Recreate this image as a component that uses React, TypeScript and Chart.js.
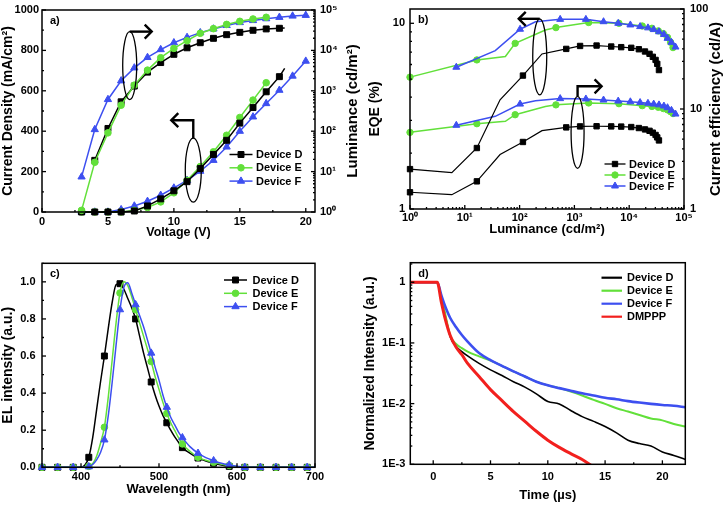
import React, { useEffect, useRef } from 'react';
import { Chart, registerables } from 'chart.js';

Chart.register(...registerables);

const FONT = "'Liberation Sans', Arial, Helvetica, sans-serif";
Chart.defaults.font.family = FONT;
Chart.defaults.color = '#000';

const C_D = '#000000';
const C_E = '#62e03a';
const C_F = '#3d4ff0';
const C_R = '#f2201e';

// ---------- a) current density / luminance vs voltage ----------
const aVoltD = [3, 4, 5, 6, 7, 8, 9, 10, 11, 12, 13, 14, 15, 16, 17, 18, 18.4];
const aCurD = [0, 0, 0, 0, 5, 30, 65, 105, 150, 215, 285, 355, 440, 517, 595, 670, 711];
const aLumVoltD = [4, 5, 6, 7, 8, 9, 10, 11, 12, 13, 14, 15, 16, 17, 18, 18.4];
const aLumD = [19, 117, 535, 1310, 2900, 5000, 8000, 11600, 15500, 19900, 24500, 28000, 31500, 34000, 35300, 36000];
const aVoltE = [3, 4, 5, 6, 7, 8, 9, 10, 11, 12, 13, 14, 15, 16, 17];
const aCurE = [0, 0, 0, 0, 8, 22, 50, 95, 157, 225, 298, 380, 468, 554, 640];
const aLumE = [1.1, 17, 91, 440, 1380, 3250, 6600, 11200, 17400, 26500, 34500, 44000, 52500, 60000, 66000];
const aVoltF = [3, 4, 5, 6, 7, 8, 9, 10, 11, 12, 13, 14, 15, 16, 17, 18, 19, 20];
const aCurF = [0, 0, 0, 12, 30, 53, 83, 119, 157, 202, 256, 322, 400, 471, 537, 603, 673, 747];
const aLumF = [7.4, 110, 610, 1770, 3700, 6700, 10500, 15500, 21000, 27500, 34000, 41500, 49000, 55000, 61000, 66000, 71000, 74000];
const aXTicks = [0, 5, 10, 15, 20];
const aYTicks = [0, 200, 400, 600, 800, 1000];
const aY1Ticks = [1, 10, 100, 1000, 10000, 100000];

// ---------- b) EQE / current efficiency vs luminance ----------
const bLumD = [1, 5.8, 16.6, 44, 115, 256, 710, 1270, 2540, 4700, 7150, 10900, 15000, 19400, 23500, 27000, 30300, 32500, 34900];
const bEqeD = [1.64, 1.57, 2.13, 3.87, 5.23, 6.84, 7.28, 7.55, 7.59, 7.5, 7.44, 7.38, 7.25, 7.05, 6.85, 6.6, 6.35, 6.05, 5.6];
const bCeD = [1.47, 1.39, 1.89, 3.5, 4.68, 6.07, 6.55, 6.7, 6.72, 6.7, 6.67, 6.6, 6.45, 6.25, 6.05, 5.8, 5.5, 5.2, 4.85];
const bBareD = [1, 3, 5];
const bLumE = [1, 16.6, 55, 83, 295, 460, 1820, 6500, 17300, 26000, 34000, 42000, 50000, 57000, 63000];
const bEqeE = [5.13, 6.35, 6.62, 7.8, 9.2, 9.48, 10.1, 10.0, 9.67, 9.4, 9.1, 8.8, 8.4, 7.9, 7.4];
const bCeE = [5.84, 7.13, 7.53, 8.77, 10.6, 11.0, 11.5, 11.3, 10.8, 10.6, 10.4, 10.1, 9.8, 9.4, 9.0];
const bBareE = [2, 4];
const bLumF = [7, 36, 102, 195, 550, 1620, 3400, 6300, 10500, 15800, 22000, 28000, 35000, 43000, 50000, 59000, 70000];
const bEqeF = [5.8, 7.13, 9.29, 10.2, 10.5, 10.5, 10.2, 10.0, 9.8, 9.6, 9.45, 9.25, 9.0, 8.7, 8.3, 7.9, 7.45];
const bCeF = [6.87, 8.45, 11.2, 12.1, 12.7, 12.6, 12.3, 12.0, 11.8, 11.6, 11.4, 11.2, 11.0, 10.7, 10.3, 9.7, 8.9];
const bBareF = [1, 3];
const bXTicks = [1, 10, 100, 1000, 10000, 100000];
const bYTicks = [1, 10];
const bY1Ticks = [1, 10, 100];

// ---------- c) EL spectra ----------
const cWave = [350, 370, 390, 400, 405, 410, 415, 420, 425, 430, 435, 440, 445, 450, 455, 460, 465, 470, 475, 480, 485, 490, 495, 500, 505, 510, 515, 520, 525, 530, 540, 550, 560, 570, 580, 590, 600, 610, 630, 650, 670, 690, 700];
const cD = [0, 0, 0, 0, 0.012, 0.054, 0.16, 0.31, 0.46, 0.6, 0.75, 0.89, 0.985, 0.99, 0.96, 0.91, 0.86, 0.8, 0.71, 0.62, 0.54, 0.46, 0.39, 0.33, 0.28, 0.24, 0.2, 0.165, 0.135, 0.106, 0.075, 0.05, 0.034, 0.022, 0.012, 0.005, 0, 0, 0, 0, 0, 0, 0];
const cE = [0, 0, 0, 0, 0, 0.005, 0.02, 0.06, 0.13, 0.216, 0.38, 0.58, 0.78, 0.94, 1.0, 0.98, 0.92, 0.85, 0.78, 0.71, 0.64, 0.57, 0.49, 0.42, 0.35, 0.29, 0.24, 0.2, 0.16, 0.126, 0.085, 0.054, 0.038, 0.027, 0.017, 0.01, 0.004, 0, 0, 0, 0, 0, 0];
const cF = [0, 0, 0, 0, 0, 0.003, 0.015, 0.04, 0.08, 0.148, 0.28, 0.46, 0.66, 0.85, 0.97, 0.995, 0.94, 0.877, 0.82, 0.76, 0.69, 0.616, 0.54, 0.47, 0.39, 0.324, 0.27, 0.23, 0.19, 0.16, 0.11, 0.076, 0.052, 0.036, 0.022, 0.013, 0.006, 0, 0, 0, 0, 0, 0];
const cXTicks = [400, 500, 600, 700];
const cYTicks = [0, 0.2, 0.4, 0.6, 0.8, 1.0];

// ---------- d) transient decay ----------
const dTime = [-2, 0.35, 0.7, 1, 1.5, 2, 2.5, 3, 4, 5, 6, 7, 8, 9, 10, 11, 12, 13, 14, 15, 16, 17, 18, 19, 20, 21, 22];
const dD = [1, 1, 0.58, 0.31, 0.124, 0.087, 0.072, 0.061, 0.046, 0.036, 0.029, 0.023, 0.0187, 0.0145, 0.0108, 0.0099, 0.0077, 0.0061, 0.0051, 0.0042, 0.0033, 0.0025, 0.0022, 0.002, 0.0016, 0.0014, 0.0012];
const dE = [1, 1, 0.58, 0.33, 0.13, 0.096, 0.082, 0.072, 0.06, 0.051, 0.042, 0.034, 0.028, 0.023, 0.02, 0.018, 0.0158, 0.0136, 0.0115, 0.0099, 0.0084, 0.0074, 0.0065, 0.0057, 0.0053, 0.0046, 0.0042];
const dF = [1, 1, 0.618, 0.423, 0.255, 0.181, 0.135, 0.105, 0.068, 0.052, 0.042, 0.034, 0.028, 0.023, 0.02, 0.018, 0.0163, 0.0148, 0.0136, 0.0125, 0.0118, 0.011, 0.0104, 0.0099, 0.0095, 0.0092, 0.0087];
const dR = [1, 1, 0.48, 0.27, 0.13, 0.085, 0.064, 0.046, 0.028, 0.017, 0.0112, 0.0074, 0.0051, 0.0035, 0.0025, 0.0019, 0.0015, 0.0012, 0.0009];
const dXTicks = [0, 5, 10, 15, 20];
const dYTicks = [0.001, 0.01, 0.1, 1];
const dYLabels = ['1E-3', '1E-2', '1E-1', '1'];

const SUP: Record<string, string> = { '0': '\u2070', '1': '\u00b9', '2': '\u00b2', '3': '\u00b3', '4': '\u2074', '5': '\u2075' };
const pow10 = (v: number) => '10' + SUP[String(Math.round(Math.log10(v)))];

// ---------- helpers ----------
function axis(o: any) {
  const horiz = o.position === 'bottom';
  return {
    type: o.type,
    position: o.position,
    min: o.min,
    max: o.max,
    grid: { display: false, drawTicks: false },
    border: { display: false },
    afterBuildTicks: (s: any) => {
      s.ticks = o.ticks.map((v: number) => ({ value: v }));
    },
    afterFit: (s: any) => {
      if (horiz) s.height = o.size;
      else s.width = o.size;
      s.paddingTop = 0;
      s.paddingBottom = 0;
      s.paddingLeft = 0;
      s.paddingRight = 0;
    },
    ticks: {
      autoSkip: false,
      maxRotation: 0,
      minRotation: 0,
      padding: o.pad,
      color: '#000',
      font: { family: FONT, size: 11, weight: 'bold' },
      callback: (v: any, i: number) => o.labels(Number(v), i),
    },
    title: o.title
      ? {
          display: true,
          text: o.title,
          color: '#000',
          font: { family: FONT, size: o.titleSize || 12.5, weight: 'bold', lineHeight: 1.2 },
          padding: { top: o.titlePad, bottom: o.titlePad },
        }
      : { display: false },
  };
}

function series(label: string, xs: number[], ys: number[], color: string, style: any, r: number, yAxis: string, bare: number[] = [], extra: any = {}) {
  return {
    label,
    data: ys.map((y, i) => ({ x: xs[i], y })),
    borderColor: color,
    backgroundColor: color,
    pointBackgroundColor: color,
    pointBorderColor: color,
    pointStyle: style,
    pointRadius: ys.map((_, i) => (bare.includes(i) ? 0 : r)),
    pointHoverRadius: 0,
    pointBorderWidth: 1,
    borderWidth: 1.5,
    xAxisID: 'x',
    yAxisID: yAxis,
    clip: 8,
    tension: 0,
    ...extra,
  };
}

function minorValues(s: any, majors: number[]) {
  const out: number[] = [];
  if (s.type === 'logarithmic') {
    const lo = Math.floor(Math.log10(s.min));
    const hi = Math.ceil(Math.log10(s.max));
    for (let d = lo; d < hi; d++) {
      for (let m = 2; m <= 9; m++) {
        const v = m * Math.pow(10, d);
        if (v > s.min && v < s.max) out.push(v);
      }
    }
  } else if (majors.length > 1) {
    const step = majors[1] - majors[0];
    for (let v = majors[0] - step / 2; v < s.max; v += step) if (v > s.min) out.push(v);
  }
  return out;
}

function drawMarker(ctx: CanvasRenderingContext2D, style: string, x: number, y: number, r: number, color: string) {
  ctx.save();
  ctx.fillStyle = color;
  ctx.strokeStyle = color;
  ctx.lineWidth = 1;
  ctx.beginPath();
  if (style === 'rect') {
    const h = r * Math.SQRT1_2;
    ctx.rect(x - h, y - h, 2 * h, 2 * h);
  } else if (style === 'circle') {
    ctx.arc(x, y, r, 0, Math.PI * 2);
  } else if (style === 'triangle') {
    for (let k = 0; k < 3; k++) {
      const ang = (k * 2 * Math.PI) / 3;
      const px = x + Math.sin(ang) * r;
      const py = y - Math.cos(ang) * r;
      if (k === 0) ctx.moveTo(px, py);
      else ctx.lineTo(px, py);
    }
    ctx.closePath();
  }
  ctx.fill();
  ctx.stroke();
  ctx.restore();
}

const decorPlugin = {
  id: 'decor',
  afterDatasetsDraw(chart: any, _args: any, opts: any) {
    const ctx: CanvasRenderingContext2D = chart.ctx;
    const a = chart.chartArea;
    ctx.save();
    ctx.strokeStyle = '#000';
    ctx.lineWidth = 1.3;
    for (const id of Object.keys(chart.scales)) {
      const s = chart.scales[id];
      const majors = s.ticks.map((t: any) => t.value);
      const minors = minorValues(s, majors);
      const draw = (vals: number[], len: number) => {
        for (const v of vals) {
          const p = s.getPixelForValue(v);
          ctx.beginPath();
          if (s.position === 'bottom') {
            ctx.moveTo(p, a.bottom);
            ctx.lineTo(p, a.bottom - len);
          } else if (s.position === 'left') {
            ctx.moveTo(a.left, p);
            ctx.lineTo(a.left + len, p);
          } else {
            ctx.moveTo(a.right, p);
            ctx.lineTo(a.right - len, p);
          }
          ctx.stroke();
        }
      };
      draw(majors, 4);
      draw(minors, 2);
    }
    ctx.lineWidth = 1.5;
    ctx.strokeRect(a.left, a.top, a.right - a.left, a.bottom - a.top);

    // annotations: ellipse + bent arrow
    for (const e of opts.ellipses || []) {
      const cx = chart.scales[e.xAxis].getPixelForValue(e.x);
      const cy = chart.scales[e.yAxis].getPixelForValue(e.y);
      ctx.lineWidth = 1.3;
      ctx.beginPath();
      ctx.ellipse(cx, cy, e.rx, e.ry, 0, 0, Math.PI * 2);
      ctx.stroke();
      const topY = cy - e.ry;
      const ay = topY - e.rise;
      const tipX = cx + e.reach;
      const dir = Math.sign(e.reach);
      ctx.lineWidth = 2.4;
      ctx.beginPath();
      ctx.moveTo(cx, topY);
      ctx.lineTo(cx, ay);
      ctx.lineTo(tipX, ay);
      ctx.stroke();
      ctx.beginPath();
      ctx.moveTo(tipX - dir * 7, ay - 7);
      ctx.lineTo(tipX, ay);
      ctx.lineTo(tipX - dir * 7, ay + 7);
      ctx.stroke();
    }

    // right-hand title (reads bottom to top)
    if (opts.rightTitle) {
      ctx.save();
      ctx.translate(opts.rightTitle.x, (a.top + a.bottom) / 2);
      ctx.rotate(-Math.PI / 2);
      ctx.font = `bold ${opts.rightTitle.size}px ${FONT}`;
      ctx.fillStyle = '#000';
      ctx.textAlign = 'center';
      ctx.textBaseline = 'middle';
      ctx.fillText(opts.rightTitle.text, 0, 0);
      ctx.restore();
    }

    // legend
    if (opts.legend) {
      const L = opts.legend;
      ctx.font = `bold 11px ${FONT}`;
      ctx.textAlign = 'left';
      ctx.textBaseline = 'middle';
      L.items.forEach((it: any, i: number) => {
        const y = L.y0 + i * L.dy;
        ctx.strokeStyle = it.color;
        ctx.lineWidth = it.lw;
        ctx.beginPath();
        ctx.moveTo(L.x0, y);
        ctx.lineTo(L.x1, y);
        ctx.stroke();
        if (it.style) drawMarker(ctx, it.style, (L.x0 + L.x1) / 2, y, it.r, it.color);
        ctx.fillStyle = '#000';
        ctx.fillText(it.label, L.tx, y + 0.5);
      });
    }

    // panel tag
    if (opts.tag) {
      ctx.font = `bold 11px ${FONT}`;
      ctx.fillStyle = '#000';
      ctx.textAlign = 'left';
      ctx.textBaseline = 'middle';
      ctx.fillText(opts.tag, a.left + 8, a.top + 11);
    }
    ctx.restore();
  },
};

function baseOptions(padding: any, decor: any, scales: any) {
  return {
    responsive: false,
    animation: false,
    devicePixelRatio: 1,
    layout: { padding },
    plugins: { legend: { display: false }, tooltip: { enabled: false }, decor },
    scales,
    events: [],
  };
}

// ---------- panel configs ----------
function configA() {
  return {
    type: 'line',
    data: {
      datasets: [
        series('Device E', aVoltE, aLumE, C_E, 'circle', 3.3, 'y1', [], { order: 0 }),
        series('Device F', aVoltF, aLumF, C_F, 'triangle', 4.2, 'y1', [], { order: 1 }),
        series('Device D', aLumVoltD, aLumD, C_D, 'rect', 4.2, 'y1', [15], { order: 2 }),
        series('Device D', aVoltD, aCurD, C_D, 'rect', 4.2, 'y', [16], { order: 3 }),
        series('Device E', aVoltE, aCurE, C_E, 'circle', 3.3, 'y', [], { order: 4 }),
        series('Device F', aVoltF, aCurF, C_F, 'triangle', 4.2, 'y', [], { order: 5 }),
      ],
    },
    options: baseOptions(
      { top: 10, left: 0, right: 0, bottom: 0 },
      {
        tag: 'a)',
        rightTitle: { text: 'Luminance (cd/m\u00b2)', x: 353, size: 15 },
        legend: {
          x0: 229.5, x1: 252.5, tx: 256, y0: 154.5, dy: 13.3,
          items: [
            { label: 'Device D', color: C_D, style: 'rect', r: 4.2, lw: 1.5 },
            { label: 'Device E', color: C_E, style: 'circle', r: 3.3, lw: 1.5 },
            { label: 'Device F', color: C_F, style: 'triangle', r: 4.2, lw: 1.5 },
          ],
        },
        ellipses: [
          { xAxis: 'x', yAxis: 'y1', x: 6.65, y: 4200, rx: 7, ry: 34, rise: 0, reach: 22 },
          { xAxis: 'x', yAxis: 'y', x: 11.47, y: 207, rx: 8, ry: 32, rise: 18, reach: -22 },
        ],
      },
      {
        x: axis({ type: 'linear', position: 'bottom', min: 0, max: 20.7, ticks: aXTicks, labels: (v: number) => String(v), size: 38, pad: 3.4, title: 'Voltage (V)', titlePad: 9.5 }),
        y: axis({ type: 'linear', position: 'left', min: 0, max: 1000, ticks: aYTicks, labels: (v: number) => String(v), size: 42, pad: 3, title: 'Current Density (mA/cm\u00b2)', titlePad: 0, titleSize: 14 }),
        y1: axis({ type: 'logarithmic', position: 'right', min: 1, max: 100000, ticks: aY1Ticks, labels: pow10, size: 47, pad: 5 }),
      }
    ),
    plugins: [decorPlugin],
  };
}

function configB() {
  return {
    type: 'line',
    data: {
      datasets: [
        series('Device F', bLumF, bEqeF, C_F, 'triangle', 4, 'y', bBareF, { order: 0 }),
        series('Device E', bLumE, bEqeE, C_E, 'circle', 3.2, 'y', bBareE, { order: 1 }),
        series('Device D', bLumD, bEqeD, C_D, 'rect', 3.8, 'y', bBareD, { order: 2, borderWidth: 1.2 }),
        series('Device F', bLumF, bCeF, C_F, 'triangle', 4, 'y1', bBareF, { order: 3 }),
        series('Device E', bLumE, bCeE, C_E, 'circle', 3.2, 'y1', bBareE, { order: 4 }),
        series('Device D', bLumD, bCeD, C_D, 'rect', 3.8, 'y1', bBareD, { order: 5, borderWidth: 1.2 }),
      ],
    },
    options: baseOptions(
      { top: 9, left: 0, right: 0, bottom: 0 },
      {
        tag: 'b)',
        rightTitle: { text: 'Current efficiency (cd/A)', x: 354, size: 15 },
        legend: {
          x0: 242.5, x1: 263.5, tx: 267, y0: 164, dy: 11,
          items: [
            { label: 'Device D', color: C_D, style: 'rect', r: 3.8, lw: 1.3 },
            { label: 'Device E', color: C_E, style: 'circle', r: 3.2, lw: 1.5 },
            { label: 'Device F', color: C_F, style: 'triangle', r: 4, lw: 1.5 },
          ],
        },
        ellipses: [
          { xAxis: 'x', yAxis: 'y', x: 233, y: 6.6, rx: 7, ry: 38, rise: 0, reach: -21 },
          { xAxis: 'x', yAxis: 'y1', x: 1143, y: 5.85, rx: 6.5, ry: 36, rise: 10, reach: 24 },
        ],
      },
      {
        x: axis({ type: 'logarithmic', position: 'bottom', min: 1, max: 100000, ticks: bXTicks, labels: pow10, size: 41, pad: 2.5, title: 'Luminance (cd/m\u00b2)', titlePad: 12.5, titleSize: 13 }),
        y: axis({ type: 'logarithmic', position: 'left', min: 1, max: 11.94, ticks: bYTicks, labels: (v: number) => String(v), size: 48, pad: 5, title: 'EQE (%)', titlePad: 5, titleSize: 14 }),
        y1: axis({ type: 'logarithmic', position: 'right', min: 1, max: 100, ticks: bY1Ticks, labels: (v: number) => String(v), size: 40, pad: 6 }),
      }
    ),
    plugins: [decorPlugin],
  };
}

function configC() {
  const r = (rad: number) => (c: any) => {
    const x = c.raw ? c.raw.x : 0;
    return (x - 350) % 20 === 0 && x <= 690 ? rad : 0;
  };
  const mk = (label: string, ys: number[], color: string, style: string, rad: number, order: number) => ({
    ...series(label, cWave, ys, color, style, rad, 'y', [], { order }),
    pointRadius: r(rad),
    cubicInterpolationMode: 'monotone',
  });
  return {
    type: 'line',
    data: {
      datasets: [
        mk('Device F', cF, C_F, 'triangle', 4.2, 0),
        mk('Device E', cE, C_E, 'circle', 3.3, 1),
        mk('Device D', cD, C_D, 'rect', 4.2, 2),
      ],
    },
    options: baseOptions(
      { top: 13.3, left: 0, right: 47, bottom: 0 },
      {
        tag: 'c)',
        legend: {
          x0: 224, x1: 247, tx: 252.5, y0: 30, dy: 13.3,
          items: [
            { label: 'Device D', color: C_D, style: 'rect', r: 4.2, lw: 1.5 },
            { label: 'Device E', color: C_E, style: 'circle', r: 3.3, lw: 1.5 },
            { label: 'Device F', color: C_F, style: 'triangle', r: 4.2, lw: 1.5 },
          ],
        },
      },
      {
        x: axis({ type: 'linear', position: 'bottom', min: 350, max: 700, ticks: cXTicks, labels: (v: number) => String(v), size: 37.7, pad: 3, title: 'Wavelength (nm)', titlePad: 7.5, titleSize: 13 }),
        y: axis({ type: 'linear', position: 'left', min: 0, max: 1.1, ticks: cYTicks, labels: (v: number) => v.toFixed(1), size: 42, pad: 6.5, title: 'EL intensity (a.u.)', titlePad: 0, titleSize: 14 }),
      }
    ),
    plugins: [decorPlugin],
  };
}

function configD() {
  const mk = (label: string, ys: number[], color: string, lw: number, order: number) => ({
    ...series(label, dTime, ys, color, false, 0, 'y', [], { order, borderWidth: lw, clip: 0 }),
    cubicInterpolationMode: 'monotone',
  });
  return {
    type: 'line',
    data: {
      datasets: [
        mk('DMPPP', dR, C_R, 3, 0),
        mk('Device F', dF, C_F, 2.6, 1),
        mk('Device E', dE, C_E, 2, 2),
        mk('Device D', dD, C_D, 1.6, 3),
      ],
    },
    options: baseOptions(
      { top: 12.7, left: 0, right: 38.7, bottom: 0 },
      {
        tag: 'd)',
        legend: {
          x0: 239.5, x1: 260, tx: 265, y0: 27.7, dy: 13,
          items: [
            { label: 'Device D', color: C_D, style: false, r: 0, lw: 2.2 },
            { label: 'Device E', color: C_E, style: false, r: 0, lw: 2.2 },
            { label: 'Device F', color: C_F, style: false, r: 0, lw: 2.2 },
            { label: 'DMPPP', color: C_R, style: false, r: 0, lw: 2.2 },
          ],
        },
      },
      {
        x: axis({ type: 'linear', position: 'bottom', min: -2, max: 22, ticks: dXTicks, labels: (v: number) => String(v), size: 40.7, pad: 6.4, title: 'Time (\u00b5s)', titlePad: 1.5, titleSize: 13 }),
        y: axis({ type: 'logarithmic', position: 'left', min: 0.001, max: 2.1, ticks: dYTicks, labels: (_v: number, i: number) => dYLabels[i], size: 48.3, pad: 5, title: 'Normalized Intensity (a.u.)', titlePad: 0, titleSize: 14 }),
      }
    ),
    plugins: [decorPlugin],
  };
}

function Panel({ make, left, top, width, height }: { make: () => any; left: number; top: number; width: number; height: number }) {
  const ref = useRef<HTMLCanvasElement>(null);
  useEffect(() => {
    const chart = new Chart(ref.current as HTMLCanvasElement, make());
    return () => chart.destroy();
  }, [make]);
  return (
    <div style={{ position: 'absolute', left, top, width, height }}>
      <canvas ref={ref} width={width} height={height} style={{ width, height, display: 'block' }} />
    </div>
  );
}

export default function App() {
  return (
    <div style={{ position: 'absolute', left: 0, top: 0, width: 724, height: 505, background: '#fff', overflow: 'hidden' }}>
      <Panel make={configA} left={0} top={0} width={362} height={250} />
      <Panel make={configB} left={362} top={0} width={362} height={250} />
      <Panel make={configC} left={0} top={250} width={362} height={255} />
      <Panel make={configD} left={362} top={250} width={362} height={255} />
    </div>
  );
}
